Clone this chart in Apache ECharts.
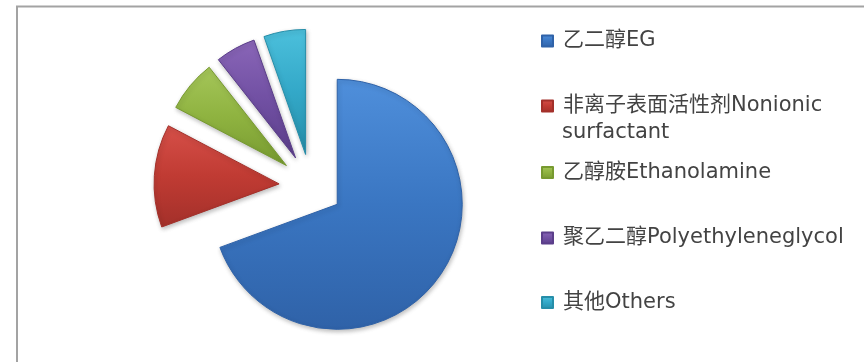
<!DOCTYPE html>
<html>
<head>
<meta charset="utf-8">
<script src="https://cdn.jsdelivr.net/npm/echarts@6/dist/echarts.min.js"></script>
<style>
html,body{margin:0;padding:0;background:#fff;}
#chart{width:864px;height:362px;}
</style>
</head>
<body>
<div id="chart"></div>
<script>
// ---- data ----
var categories = ['乙二醇EG', '非离子表面活性剂Nonionic surfactant', '乙醇胺Ethanolamine', '聚乙二醇Polyethyleneglycol', '其他Others'];
var shares = [69.4, 13.3, 6.7, 5.2, 5.4];

// ---- styles ----
var palette = [
  ['#4f8fdb', '#3a76c2', '#2f62a8'],
  ['#d65049', '#c03b33', '#a3302a'],
  ['#a5c65a', '#8fb340', '#779a30'],
  ['#8a66b8', '#7150a3', '#5b3e8a'],
  ['#4cc0dc', '#33a8c8', '#268ea9']
];
var legendY = [41, 106, 172.5, 238, 302.5];
var wrapLineY = 133;
var fontFam = '"DejaVu Sans", "Noto Sans CJK SC", sans-serif';
var fontSz = 21;
var textColor = '#434343';

function grad(c) {
  return new echarts.graphic.LinearGradient(0, 0, 0, 1, [
    {offset: 0, color: c[0]},
    {offset: 0.5, color: c[1]},
    {offset: 1, color: c[2]}
  ]);
}

var chart = echarts.init(document.getElementById('chart'), null, {renderer: 'canvas'});

var data = categories.map(function (n, i) {
  return {
    name: n,
    value: shares[i],
    selected: true,
    itemStyle: {color: grad(palette[i]), borderColor: palette[i][2], borderWidth: 1}
  };
});

var legends = categories.map(function (n, i) {
  return {
    data: [n],
    orient: 'vertical',
    left: 541,
    top: legendY[i] - 12.5,
    padding: 0,
    icon: 'rect',
    itemWidth: 11,
    itemHeight: 11,
    selectedMode: false,
    formatter: function (name) { return name.split(' ')[0]; },
    textStyle: {
      fontFamily: fontFam,
      fontSize: fontSz,
      color: textColor,
      lineHeight: 25,
      padding: [0, 0, 0, 5]
    }
  };
});

// wrapped continuation of the long legend name
var wrapped = categories.filter(function (n) { return n.indexOf(' ') >= 0; });
var graphics = [{
  type: 'rect',
  shape: {x: 17, y: 6.5, width: 900, height: 400},
  style: {fill: 'none', stroke: '#a3a3a3', lineWidth: 2},
  silent: true
}];
wrapped.forEach(function (n) {
  graphics.push({
    type: 'text',
    left: 562,
    top: wrapLineY - 12.5,
    silent: true,
    style: {
      text: n.split(' ').slice(1).join(' '),
      fontFamily: fontFam,
      fontSize: fontSz,
      lineHeight: 25,
      fill: textColor
    }
  });
});

chart.setOption({
  animation: false,
  backgroundColor: '#ffffff',
  legend: legends,
  graphic: graphics,
  series: [{
    type: 'pie',
    center: [311, 186],
    radius: 125,
    startAngle: 90,
    clockwise: true,
    selectedMode: 'multiple',
    selectedOffset: 32,
    avoidLabelOverlap: false,
    label: {show: false},
    labelLine: {show: false},
    emphasis: {disabled: true},
    itemStyle: {shadowBlur: 4, shadowColor: 'rgba(0,0,0,0.25)', shadowOffsetX: 1, shadowOffsetY: 2},
    data: data
  }]
});
</script>
</body>
</html>
